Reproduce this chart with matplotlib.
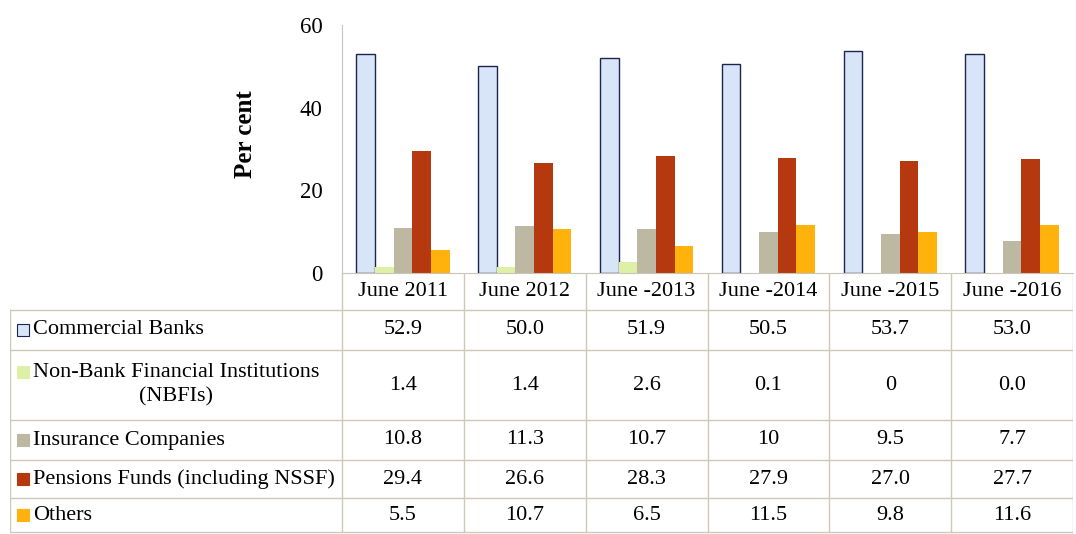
import matplotlib.pyplot as plt

plt.rcParams['font.family'] = ['Liberation Serif', 'DejaVu Serif']

# data (per cent), as printed in the table
years = ["June 2011", "June 2012", "June -2013", "June -2014", "June -2015", "June -2016"]
series_names = ["Commercial Banks", "Non-Bank Financial Institutions\n(NBFIs)",
                "Insurance Companies", "Pensions Funds (including NSSF)", "Others"]
commercial_banks = ["52.9", "50.0", "51.9", "50.5", "53.7", "53.0"]
nbfis = ["1.4", "1.4", "2.6", "0.1", "0", "0.0"]
insurance = ["10.8", "11.3", "10.7", "10", "9.5", "7.7"]
pensions = ["29.4", "26.6", "28.3", "27.9", "27.0", "27.7"]
others = ["5.5", "10.7", "6.5", "11.5", "9.8", "11.6"]

rows = [commercial_banks, nbfis, insurance, pensions, others]
colors = ["#d8e4f8", "#def0a6", "#bdb8a2", "#b5380f", "#ffb20c"]
edges = ["#1c2550", "#def0a6", "#bdb8a2", "#b5380f", "#ffb20c"]
fs = 16

W, H = 1076, 534
fig = plt.figure(figsize=(W / 100, H / 100), dpi=100)

# bar chart area
ax = fig.add_axes([342 / W, (H - 273) / H, (1073 - 342) / W, 248 / H])
bw = 0.153
for i, vals in enumerate(rows):
    xs = [k + (i - 2) * bw for k in range(len(years))]
    ax.bar(xs, [float(v) for v in vals], width=bw, color=colors[i],
           edgecolor=edges[i], linewidth=1.0 if i == 0 else 0)
ax.set_xlim(-0.5, len(years) - 0.5)
ax.set_ylim(0, 60)
ax.set_yticks([0, 20, 40, 60])
ax.set_xticks([])
ax.tick_params(axis='y', length=0, pad=14, labelsize=16.5)
for s in ["top", "right"]:
    ax.spines[s].set_visible(False)
ax.spines["left"].set_color("#c9c4b8")
ax.spines["bottom"].set_color("#c9c4b8")
fig.text(245 / W, 1 - 134 / H, "Per cent", rotation=90, fontsize=18,
         fontweight="bold", ha="center", va="center")

# data table below
cat_px = (1073 - 342) / len(years)
xmin = -0.5 - (342 - 10) / cat_px
tb = fig.add_axes([10 / W, 0, (1073 - 10) / W, (H - 273) / H])
tb.set_xlim(xmin, len(years) - 0.5)
tb.set_ylim(534, 273)
tb.axis("off")
line_c = "#cfc8b8"
row_edges = [310, 350, 420, 460, 498, 532]
for k in range(len(years) + 1):
    tb.plot([k - 0.5, k - 0.5], [273, 532], color=line_c, lw=1)
tb.plot([xmin, xmin], [310, 532], color=line_c, lw=1)
for y in row_edges:
    tb.plot([xmin, len(years) - 0.5], [y, y], color=line_c, lw=1)

for k, lab in enumerate(years):
    tb.text(k, 292, lab, ha="center", va="center", fontsize=fs)

px = (len(years) - 0.5 - xmin) / (1073 - 10)
for i, vals in enumerate(rows):
    yc = (row_edges[i] + row_edges[i + 1]) / 2
    for k, v in enumerate(vals):
        tb.text(k, yc, v, ha="center", va="center", fontsize=fs)
    if "\n" in series_names[i]:
        tb.text(xmin + 166 * px, yc, series_names[i], ha="center", va="center",
                multialignment="center", fontsize=fs, linespacing=1.35)
        my = yc - 13
    else:
        tb.text(xmin + 23 * px, yc, series_names[i], ha="left", va="center", fontsize=fs)
        my = yc
    tb.plot([xmin + 13 * px], [my], marker="s", ms=8, mfc=colors[i],
            mec=edges[i], mew=0.8)

fig.savefig("out.png", dpi=100)
